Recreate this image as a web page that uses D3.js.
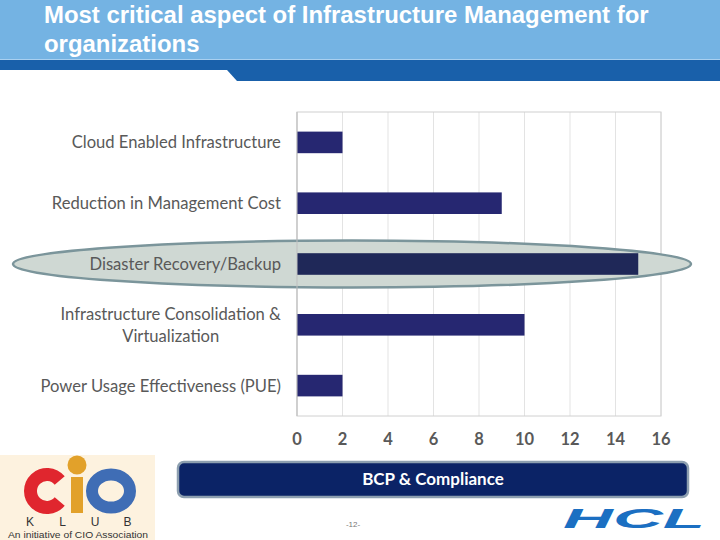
<!DOCTYPE html>
<html><head><meta charset="utf-8">
<script src="https://cdn.jsdelivr.net/npm/d3@7"></script>
<style>html,body{margin:0;padding:0;background:#fff;}svg{display:block;}</style>
</head><body>
<script>
const categories = ["Cloud Enabled Infrastructure","Reduction in Management Cost","Disaster Recovery/Backup","Infrastructure Consolidation &\nVirtualization","Power Usage Effectiveness (PUE)"];
const values = [2, 9, 15, 10, 2];
const xTicks = [0,2,4,6,8,10,12,14,16];
const highlighted = "Disaster Recovery/Backup";
const titleLines = ["Most critical aspect of Infrastructure Management for","organizations"];
const boxLabel = "BCP & Compliance";
const pageNo = "-12-";
const klubLetters = ["K","L","U","B"];

const W=720,H=540;
const svg=d3.select("body").append("svg").attr("width",W).attr("height",H);

// header
svg.append("rect").attr("x",0).attr("y",0).attr("width",W).attr("height",60).attr("fill","#74b3e3");
svg.append("rect").attr("x",0).attr("y",59).attr("width",W).attr("height",22).attr("fill","#1960aa");
svg.append("line").attr("x1",0).attr("x2",W).attr("y1",59.5).attr("y2",59.5).attr("stroke","#a9d0f0").attr("stroke-width",1);
svg.append("path").attr("d","M0,70 L227,70 L237,81 L0,81 Z").attr("fill","#fff");
const tg=svg.append("g");
const tt=tg.append("text").attr("fill","#fff").attr("font-family","'Liberation Sans', Arial, sans-serif")
  .attr("font-weight","bold").attr("font-size",23);
titleLines.forEach((l,i)=>tt.append("tspan").attr("x",0).attr("y",23+i*29).text(l));
const tw=tt.select("tspan").node().getComputedTextLength();
tg.attr("transform",`translate(44,0) scale(${605/tw},1)`);

// chart
const m={l:297,r:661,t:112,b:416};
const x=d3.scaleLinear().domain([0,16]).range([m.l,m.r]);
const y=d3.scaleBand().domain(categories).range([m.t,m.b]).paddingInner(0.645).paddingOuter(0.3225);

const g=svg.append("g");
g.selectAll("line.grid").data(xTicks).enter().append("line")
 .attr("x1",d=>x(d)).attr("x2",d=>x(d)).attr("y1",m.t).attr("y2",m.b)
 .attr("stroke","#e3e3e3").attr("stroke-width",1);
g.append("rect").attr("x",m.l).attr("y",m.t).attr("width",m.r-m.l).attr("height",m.b-m.t)
 .attr("fill","none").attr("stroke","#d0d0d0").attr("stroke-width",1);

// highlight ellipse
const hy=y(highlighted)+y.bandwidth()/2;
svg.append("ellipse").attr("cx",352).attr("cy",hy).attr("rx",339).attr("ry",23.5)
 .attr("fill","#cfd8d3").attr("stroke","#7b959b").attr("stroke-width",2.5);

svg.append("g").selectAll("rect.bar").data(categories).enter().append("rect")
 .attr("x",x(0)).attr("y",d=>y(d)).attr("height",y.bandwidth())
 .attr("width",(d,i)=>x(values[i])-x(0))
 .attr("fill",d=>d===highlighted?"#1f2858":"#262771");

svg.append("line").attr("x1",m.l).attr("x2",m.l).attr("y1",m.t).attr("y2",m.b).attr("stroke","#bfbfbf");

// category labels
const lab=svg.append("g").attr("font-family","Lato, 'Open Sans', sans-serif").attr("font-size",16.6).attr("fill","#595959").attr("text-anchor","middle");
categories.forEach(c=>{
  const lines=c.split("\n");
  const cy=y(c)+y.bandwidth()/2;
  const t=lab.append("text");
  lines.forEach((ln,i)=>{
    t.append("tspan").attr("x",0).attr("y",cy+6+(i-(lines.length-1)/2)*22).text(ln);
  });
  const w=t.node().getBBox().width;
  t.selectAll("tspan").attr("x",281-w/2);
});

// x tick labels
svg.append("g").selectAll("text").data(xTicks).enter().append("text")
 .attr("x",d=>x(d)).attr("y",445).attr("text-anchor","middle")
 .attr("font-family","Lato, 'Open Sans', sans-serif").attr("font-weight","bold").attr("font-size",16.5).attr("fill","#595959")
 .text(d=>d);

// BCP box
svg.append("rect").attr("x",178).attr("y",462).attr("width",510).attr("height",35).attr("rx",6)
 .attr("fill","#0b2366").attr("stroke","#8d9fb0").attr("stroke-width",2.5);
svg.append("text").attr("x",433).attr("y",485).attr("text-anchor","middle").attr("fill","#fff")
 .attr("font-family","Lato, 'Open Sans', sans-serif").attr("font-weight","bold").attr("font-size",17).text(boxLabel);

svg.append("text").attr("x",353).attr("y",527).attr("text-anchor","middle").attr("fill","#777")
 .attr("font-family","'Liberation Sans', Arial, sans-serif").attr("font-size",8).text(pageNo);

// CIO KLUB logo
const lg=svg.append("g");
lg.append("rect").attr("x",0).attr("y",455).attr("width",155).attr("height",85).attr("fill","#fdf2df");
lg.append("path").attr("transform","translate(47,491)")
 .attr("d",d3.arc().innerRadius(10).outerRadius(23).startAngle(0.72*Math.PI).endAngle(2.28*Math.PI)())
 .attr("fill","#e0262e");
lg.append("rect").attr("x",71).attr("y",477).attr("width",12).attr("height",36).attr("fill","#e2a12a");
lg.append("circle").attr("cx",77).attr("cy",465).attr("r",9.5).attr("fill","#e2a12a");
lg.append("ellipse").attr("cx",111).attr("cy",491).attr("rx",19).attr("ry",16.5).attr("fill","none").attr("stroke","#3f6db5").attr("stroke-width",12);
lg.selectAll("text.k").data(klubLetters).enter().append("text")
 .attr("x",(d,i)=>30+i*32.5).attr("y",526).attr("text-anchor","middle")
 .attr("font-family","'Liberation Sans', Arial, sans-serif").attr("font-size",12).attr("fill","#333").text(d=>d);
lg.append("text").attr("x",78).attr("y",538).attr("text-anchor","middle").attr("font-family","'Liberation Sans Narrow', 'Liberation Sans', Arial, sans-serif")
 .attr("font-size",9.5).attr("fill","#333").attr("textLength",140).attr("lengthAdjust","spacingAndGlyphs").text("An initiative of CIO Association");

// HCL logo
svg.append("text").attr("x",563).attr("y",528)
 .attr("font-family","'Liberation Sans', Arial, sans-serif").attr("font-weight","bold").attr("font-style","italic")
 .attr("font-size",27).attr("fill","#1b6fc2").attr("textLength",142).attr("lengthAdjust","spacingAndGlyphs").text("HCL");
</script>
</body></html>
